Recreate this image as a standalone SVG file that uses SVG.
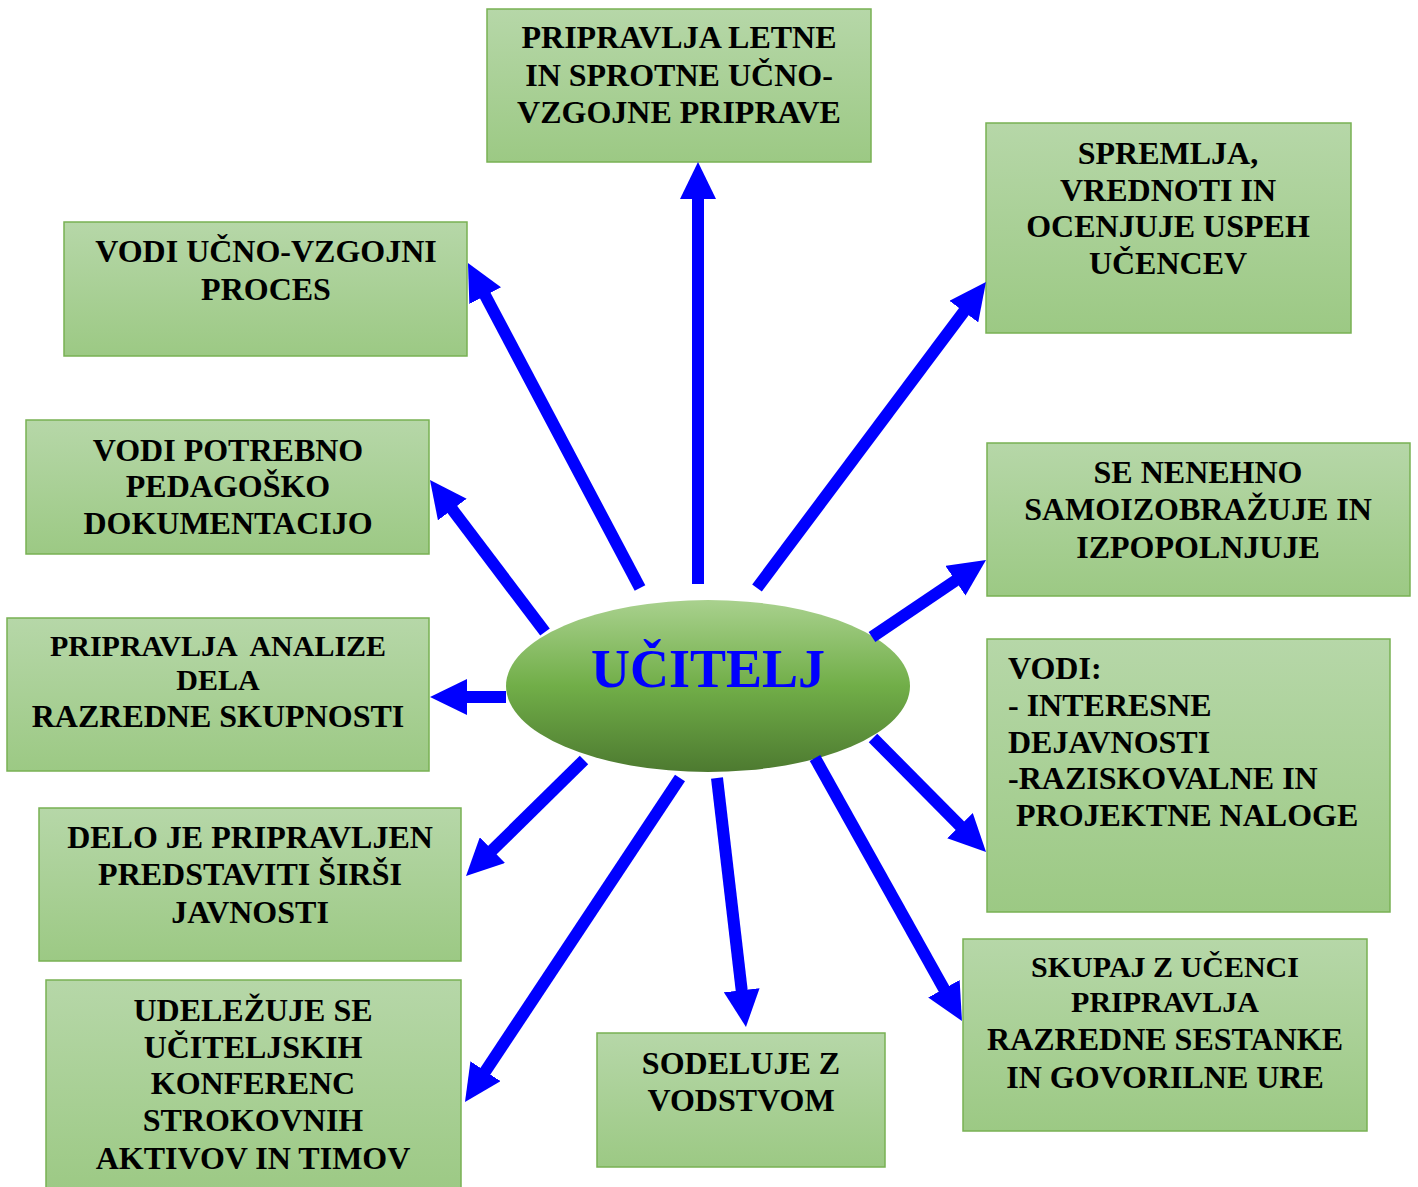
<svg xmlns="http://www.w3.org/2000/svg" width="1418" height="1187" viewBox="0 0 1418 1187">
<style>
.box{fill:url(#gBox);stroke:#78b153;stroke-width:1.5}
.t{font-family:"Liberation Serif","Times New Roman",serif;font-weight:bold;font-size:32px;fill:#000;text-anchor:middle}
.s{font-size:30px}
.tl{text-anchor:start}
.c line{stroke:#0000ff;stroke-width:12;marker-end:url(#ah)}
</style>
<defs>
<linearGradient id="gBox" x1="0" y1="0" x2="0" y2="1">
<stop offset="0" stop-color="#b6d7a8"/>
<stop offset="1" stop-color="#9cc984"/>
</linearGradient>
<linearGradient id="gEll" x1="0" y1="0" x2="0" y2="1">
<stop offset="0" stop-color="#a9d18e"/>
<stop offset="0.5" stop-color="#71ae48"/>
<stop offset="1" stop-color="#4d7a30"/>
</linearGradient>
<marker id="ah" markerUnits="userSpaceOnUse" markerWidth="37" markerHeight="36" viewBox="0 0 37 36" refX="1" refY="18" orient="auto">
<path d="M0,0 L37,18 L0,36 z" fill="#0000ff"/>
</marker>
</defs>
<rect width="1418" height="1187" fill="#fff"/>

<g id="n-letne"><rect class="box" x="487" y="9" width="384" height="153"/>
<text class="t" x="679" y="48">PRIPRAVLJA LETNE</text>
<text class="t" x="679" y="86">IN SPROTNE UČNO-</text>
<text class="t" x="679" y="123">VZGOJNE PRIPRAVE</text></g>

<g id="n-spremlja"><rect class="box" x="986" y="123" width="365" height="210"/>
<text class="t" x="1168" y="164">SPREMLJA,</text>
<text class="t" x="1168" y="201">VREDNOTI IN</text>
<text class="t" x="1168" y="237">OCENJUJE USPEH</text>
<text class="t" x="1168" y="274">UČENCEV</text></g>

<g id="n-proces"><rect class="box" x="64" y="222" width="403" height="134"/>
<text class="t" x="266" y="262">VODI UČNO-VZGOJNI</text>
<text class="t" x="266" y="300">PROCES</text></g>

<g id="n-dokumentacija"><rect class="box" x="26" y="420" width="403" height="134"/>
<text class="t" x="228" y="461">VODI POTREBNO</text>
<text class="t" x="228" y="497">PEDAGOŠKO</text>
<text class="t" x="228" y="534">DOKUMENTACIJO</text></g>

<g id="n-samoizobrazuje"><rect class="box" x="987" y="443" width="423" height="153"/>
<text class="t" x="1198" y="483">SE NENEHNO</text>
<text class="t" x="1198" y="520">SAMOIZOBRAŽUJE IN</text>
<text class="t" x="1198" y="558">IZPOPOLNJUJE</text></g>

<g id="n-analize"><rect class="box" x="7" y="618" width="422" height="153"/>
<text class="t s" x="218" y="656" xml:space="preserve">PRIPRAVLJA  ANALIZE</text>
<text class="t s" x="218" y="690">DELA</text>
<text class="t" x="218" y="727">RAZREDNE SKUPNOSTI</text></g>

<g id="n-vodi"><rect class="box" x="987" y="639" width="403" height="273"/>
<text class="t tl" x="1008" y="679">VODI:</text>
<text class="t tl" x="1008" y="716">- INTERESNE</text>
<text class="t tl" x="1008" y="753">DEJAVNOSTI</text>
<text class="t tl" x="1008" y="789">-RAZISKOVALNE IN</text>
<text class="t tl" x="1016" y="826">PROJEKTNE NALOGE</text></g>

<g id="n-javnost"><rect class="box" x="39" y="808" width="422" height="153"/>
<text class="t" x="250" y="848">DELO JE PRIPRAVLJEN</text>
<text class="t" x="250" y="885">PREDSTAVITI ŠIRŠI</text>
<text class="t" x="250" y="923">JAVNOSTI</text></g>

<g id="n-sestanki"><rect class="box" x="963" y="939" width="404" height="192"/>
<text class="t s" x="1165" y="977">SKUPAJ Z UČENCI</text>
<text class="t s" x="1165" y="1012">PRIPRAVLJA</text>
<text class="t" x="1165" y="1050">RAZREDNE SESTANKE</text>
<text class="t" x="1165" y="1088">IN GOVORILNE URE</text></g>

<g id="n-konference"><rect class="box" x="46" y="980" width="415" height="215"/>
<text class="t" x="253" y="1021">UDELEŽUJE SE</text>
<text class="t" x="253" y="1058">UČITELJSKIH</text>
<text class="t" x="253" y="1094">KONFERENC</text>
<text class="t" x="253" y="1131">STROKOVNIH</text>
<text class="t" x="253" y="1169">AKTIVOV IN TIMOV</text></g>

<g id="n-vodstvo"><rect class="box" x="597" y="1033" width="288" height="134"/>
<text class="t" x="741" y="1074">SODELUJE Z</text>
<text class="t" x="741" y="1111">VODSTVOM</text></g>

<g id="n-ucitelj"><ellipse cx="708" cy="686" rx="202" ry="86" fill="url(#gEll)"/>
<text x="708" y="687" style="font-family:'Liberation Serif','Times New Roman',serif;font-weight:bold;font-size:54px;fill:#0000ff;text-anchor:middle">UČITELJ</text></g>

<g id="connectors" class="c">
<line x1="698" y1="584" x2="698" y2="198"/>
<line x1="640" y1="588" x2="484.8" y2="294.8"/>
<line x1="545" y1="632" x2="451.7" y2="508.7"/>
<line x1="757" y1="588" x2="964.4" y2="310.8"/>
<line x1="872" y1="637" x2="956.2" y2="580.1"/>
<line x1="506" y1="697" x2="466" y2="697"/>
<line x1="584" y1="760" x2="491.7" y2="850.8"/>
<line x1="680" y1="778" x2="484.9" y2="1072"/>
<line x1="717" y1="778" x2="741.8" y2="991.2"/>
<line x1="815" y1="758" x2="944.4" y2="989.6"/>
<line x1="873" y1="738" x2="960.7" y2="826.4"/>
</g>
</svg>
